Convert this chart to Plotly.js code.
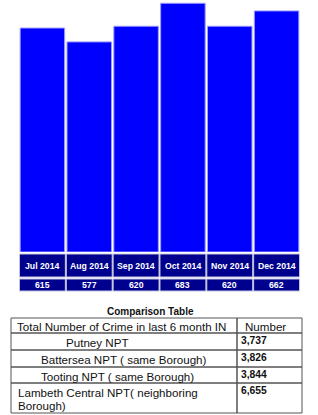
<!DOCTYPE html>
<html>
<head>
<meta charset="utf-8">
<script src="https://cdn.plot.ly/plotly-3.0.1.min.js"></script>
<style>html,body{margin:0;padding:0;background:#fff;}#chart{width:318px;height:415px;}</style>
</head>
<body>
<div id="chart"></div>
<script>
const months = ["Jul 2014", "Aug 2014", "Sep 2014", "Oct 2014", "Nov 2014", "Dec 2014"];
const crimes = [615, 577, 620, 683, 620, 662];
const compTitle = "Comparison Table";
const compHeader = ["Total Number of Crime in last 6 month IN", "Number"];
const areaLabels = ["Putney NPT", "Battersea NPT ( same Borough)", "Tooting NPT ( same Borough)", "Lambeth Central NPT( neighboring<br>Borough)"];
const areaTotals = [3737, 3826, 3844, 6655];

const W = 318, H = 415;
const px = v => v / W;
const py = v => 1 - v / H;
const FONT = 'Arial, "Liberation Sans", sans-serif';

const bars = {
  type: 'bar', x: months, y: crimes,
  marker: {color: '#0000ff', line: {color: '#9d9dff', width: 1}},
  hoverinfo: 'none', showlegend: false
};

const shapes = [];
const annotations = [];

// month / value cells under each bar, placed on the bar category axis
const labelRow = {top: 254, bottom: 277, mid: 266};
const valueRow = {top: 279, bottom: 291, mid: 285};
months.forEach((m, i) => {
  [labelRow, valueRow].forEach(r => {
    shapes.push({type: 'rect', xref: 'x', yref: 'paper', x0: i - 0.49, x1: i + 0.49,
      y0: py(r.bottom), y1: py(r.top), fillcolor: '#00008f', line: {color: '#c4c4e0', width: 1}, layer: 'above'});
  });
  annotations.push({text: '<b>' + m + '</b>', xref: 'x', yref: 'paper', x: m, y: py(labelRow.mid),
    xanchor: 'center', yanchor: 'middle', showarrow: false,
    font: {family: FONT, size: 8.7, color: '#ffffff'}});
  annotations.push({text: '<b>' + crimes[i] + '</b>', xref: 'x', yref: 'paper', x: m, y: py(valueRow.mid),
    xanchor: 'center', yanchor: 'middle', showarrow: false,
    font: {family: FONT, size: 8.7, color: '#ffffff'}});
});

// comparison table
annotations.push({text: '<b>' + compTitle + '</b>', xref: 'paper', yref: 'paper', x: px(150), y: py(311),
  xanchor: 'center', yanchor: 'middle', showarrow: false, font: {family: FONT, size: 10, color: '#111111'}});

const colX = [11, 237, 302];
const rowY = [318, 333, 350, 367, 383, 413];
const labelIndent = [64, 39, 39, 16];
const lineStep = 13;
const tableLine = {color: '#555555', width: 1};
for (let r = 0; r < rowY.length - 1; r++) {
  for (let c = 0; c < colX.length - 1; c++) {
    shapes.push({type: 'rect', xref: 'paper', yref: 'paper', x0: px(colX[c]), x1: px(colX[c + 1]),
      y0: py(rowY[r + 1]), y1: py(rowY[r]), line: tableLine, fillcolor: 'rgba(0,0,0,0)'});
  }
}
annotations.push({text: compHeader[0], xref: 'paper', yref: 'paper', x: px(15), y: py(326),
  xanchor: 'left', yanchor: 'middle', showarrow: false, font: {family: FONT, size: 11.6, color: '#111111'}});
annotations.push({text: compHeader[1], xref: 'paper', yref: 'paper', x: px(265), y: py(326),
  xanchor: 'center', yanchor: 'middle', showarrow: false, font: {family: FONT, size: 11.6, color: '#111111'}});
areaLabels.forEach((lab, i) => {
  lab.split('<br>').forEach((line, k) => {
    annotations.push({text: line, xref: 'paper', yref: 'paper', x: px(labelIndent[i]),
      y: py(rowY[i + 1] + 0.5 + k * lineStep),
      xanchor: 'left', yanchor: 'top', align: 'left', showarrow: false,
      font: {family: FONT, size: 11.6, color: '#111111'}});
  });
  annotations.push({text: '<b>' + areaTotals[i].toLocaleString('en-US') + '</b>', xref: 'paper', yref: 'paper',
    x: px(239), y: py(rowY[i + 1]), xanchor: 'left', yanchor: 'top', showarrow: false,
    font: {family: FONT, size: 10.3, color: '#111111'}});
});

const layout = {
  width: W, height: H,
  margin: {l: 0, r: 0, t: 0, b: 0},
  paper_bgcolor: '#ffffff', plot_bgcolor: '#ffffff',
  bargap: 0.05,
  xaxis: {domain: [px(19), px(300)], range: [-0.5, 5.5], showticklabels: false, showgrid: false, zeroline: false, showline: false, ticks: ''},
  yaxis: {domain: [py(252), 1], range: [0, 692], showticklabels: false, showgrid: false, zeroline: false, showline: false, ticks: ''},
  shapes: shapes,
  annotations: annotations
};

Plotly.newPlot('chart', [bars], layout, {displayModeBar: false, staticPlot: true});
</script>
</body>
</html>
